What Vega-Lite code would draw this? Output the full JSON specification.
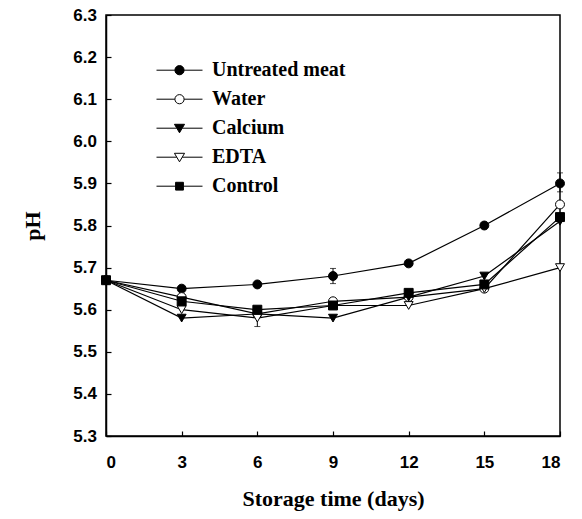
{
  "$schema": "https://vega.github.io/schema/vega-lite/v6.json",
  "width": 454,
  "height": 421,
  "autosize": {"type": "none"},
  "padding": {"left": 106, "top": 15, "right": 22, "bottom": 83},
  "background": "white",
  "config": {
    "view": {"stroke": "black", "strokeWidth": 1.5},
    "axis": {
      "domainColor": "black", "domainWidth": 1.5,
      "tickColor": "black", "tickWidth": 1.2, "tickSize": -5,
      "grid": false,
      "labelFont": "Liberation Sans", "labelFontWeight": "bold", "labelFontSize": 17, "labelColor": "black",
      "titleFont": "Liberation Serif", "titleFontSize": 22, "titleFontWeight": "bold", "titleColor": "black"
    }
  },
  "data": {
    "values": [
      {"day": 0, "series": "Untreated meat", "pH": 5.67},
      {"day": 3, "series": "Untreated meat", "pH": 5.65},
      {"day": 6, "series": "Untreated meat", "pH": 5.66},
      {"day": 9, "series": "Untreated meat", "pH": 5.68, "lo": 5.662, "hi": 5.698},
      {"day": 12, "series": "Untreated meat", "pH": 5.71},
      {"day": 15, "series": "Untreated meat", "pH": 5.80},
      {"day": 18, "series": "Untreated meat", "pH": 5.90, "lo": 5.88, "hi": 5.925},
      {"day": 0, "series": "Water", "pH": 5.67},
      {"day": 3, "series": "Water", "pH": 5.63},
      {"day": 6, "series": "Water", "pH": 5.59},
      {"day": 9, "series": "Water", "pH": 5.62},
      {"day": 12, "series": "Water", "pH": 5.63},
      {"day": 15, "series": "Water", "pH": 5.65},
      {"day": 18, "series": "Water", "pH": 5.85},
      {"day": 0, "series": "Calcium", "pH": 5.67},
      {"day": 3, "series": "Calcium", "pH": 5.58},
      {"day": 6, "series": "Calcium", "pH": 5.59},
      {"day": 9, "series": "Calcium", "pH": 5.58},
      {"day": 12, "series": "Calcium", "pH": 5.63},
      {"day": 15, "series": "Calcium", "pH": 5.68},
      {"day": 18, "series": "Calcium", "pH": 5.81},
      {"day": 0, "series": "EDTA", "pH": 5.67},
      {"day": 3, "series": "EDTA", "pH": 5.60},
      {"day": 6, "series": "EDTA", "pH": 5.58, "lo": 5.56, "hi": 5.60},
      {"day": 9, "series": "EDTA", "pH": 5.61},
      {"day": 12, "series": "EDTA", "pH": 5.61},
      {"day": 15, "series": "EDTA", "pH": 5.65},
      {"day": 18, "series": "EDTA", "pH": 5.70},
      {"day": 0, "series": "Control", "pH": 5.67},
      {"day": 3, "series": "Control", "pH": 5.62},
      {"day": 6, "series": "Control", "pH": 5.60},
      {"day": 9, "series": "Control", "pH": 5.61},
      {"day": 12, "series": "Control", "pH": 5.64},
      {"day": 15, "series": "Control", "pH": 5.66},
      {"day": 18, "series": "Control", "pH": 5.82}
    ]
  },
  "layer": [
    {
      "mark": {"type": "line", "color": "black", "strokeWidth": 1.2},
      "encoding": {
        "x": {
          "field": "day", "type": "quantitative",
          "scale": {"domain": [0, 18], "nice": false, "zero": false},
          "axis": {"values": [0, 3, 6, 9, 12, 15, 18], "labelPadding": 23, "title": "Storage time (days)", "titlePadding": 18}
        },
        "y": {
          "field": "pH", "type": "quantitative",
          "scale": {"domain": [5.3, 6.3], "nice": false, "zero": false},
          "axis": {"values": [5.3, 5.4, 5.5, 5.6, 5.7, 5.8, 5.9, 6.0, 6.1, 6.2, 6.3], "format": ".1f", "labelPadding": 14.5, "title": "pH", "titlePadding": 28}
        },
        "detail": {"field": "series", "type": "nominal"}
      }
    },
    {
      "transform": [{"filter": "isValid(datum.lo)"}],
      "mark": {"type": "errorbar", "color": "black", "ticks": {"size": 6, "color": "black"}, "rule": {"strokeWidth": 1}},
      "encoding": {
        "x": {"field": "day", "type": "quantitative"},
        "y": {"field": "lo", "type": "quantitative", "title": "pH"},
        "y2": {"field": "hi"}
      }
    },
    {
      "mark": {"type": "point", "stroke": "black", "strokeWidth": 1, "size": 80, "opacity": 1},
      "encoding": {
        "x": {"field": "day", "type": "quantitative"},
        "y": {"field": "pH", "type": "quantitative"},
        "shape": {
          "field": "series", "type": "nominal",
          "scale": {"domain": ["Untreated meat", "Water", "Calcium", "EDTA", "Control"], "range": ["circle", "circle", "triangle-down", "triangle-down", "square"]},
          "legend": null
        },
        "fill": {
          "field": "series", "type": "nominal",
          "scale": {"domain": ["Untreated meat", "Water", "Calcium", "EDTA", "Control"], "range": ["black", "white", "black", "white", "black"]},
          "legend": null
        }
      }
    },
    {
      "transform": [{"filter": "datum.day > 100"}],
      "mark": {"type": "point", "strokeWidth": 1, "opacity": 1},
      "encoding": {
        "x": {"field": "day", "type": "quantitative"},
        "y": {"field": "pH", "type": "quantitative"},
        "shape": {
          "field": "series", "type": "nominal",
          "scale": {"domain": ["Untreated meat", "Water", "Calcium", "EDTA", "Control"], "range": [
            "M-1,0H-0.2M0.2,0H1M-0.2,0A0.2,0.2,0,1,1,0.2,0A0.2,0.2,0,1,1,-0.2,0Z",
            "M-1,0H-0.2M0.2,0H1M-0.2,0A0.2,0.2,0,1,1,0.2,0A0.2,0.2,0,1,1,-0.2,0Z",
            "M-1,0H-0.12M0.12,0H1M-0.22,-0.17L0.22,-0.17L0,0.2Z",
            "M-1,0H-0.12M0.12,0H1M-0.22,-0.17L0.22,-0.17L0,0.2Z",
            "M-1,0H-0.17M0.17,0H1M-0.17,-0.17H0.17V0.17H-0.17Z"
          ]},
          "legend": {
            "title": null, "orient": "none", "legendX": 50, "legendY": 41,
            "symbolSize": 2116, "clipHeight": 28.4, "rowPadding": 0, "padding": 0,
            "labelOffset": 9, "symbolStrokeWidth": 1, "symbolStrokeColor": "black",
            "labelFont": "Liberation Serif", "labelFontWeight": "bold", "labelFontSize": 20, "labelColor": "black"
          }
        },
        "fill": {
          "field": "series", "type": "nominal",
          "scale": {"domain": ["Untreated meat", "Water", "Calcium", "EDTA", "Control"], "range": ["black", "white", "black", "white", "black"]},
          "legend": {
            "title": null, "orient": "none", "legendX": 50, "legendY": 41,
            "symbolSize": 2116, "clipHeight": 28.4, "rowPadding": 0, "padding": 0,
            "labelOffset": 9, "symbolStrokeWidth": 1, "symbolStrokeColor": "black",
            "labelFont": "Liberation Serif", "labelFontWeight": "bold", "labelFontSize": 20, "labelColor": "black"
          }
        },
        "stroke": {
          "field": "series", "type": "nominal",
          "scale": {"domain": ["Untreated meat", "Water", "Calcium", "EDTA", "Control"], "range": ["black", "black", "black", "black", "black"]},
          "legend": {
            "title": null, "orient": "none", "legendX": 50, "legendY": 41,
            "symbolSize": 2116, "clipHeight": 28.4, "rowPadding": 0, "padding": 0,
            "labelOffset": 9, "symbolStrokeWidth": 1, "symbolStrokeColor": "black",
            "labelFont": "Liberation Serif", "labelFontWeight": "bold", "labelFontSize": 20, "labelColor": "black"
          }
        }
      }
    }
  ],
  "resolve": {"scale": {"shape": "independent", "fill": "independent", "stroke": "independent"}}
}
